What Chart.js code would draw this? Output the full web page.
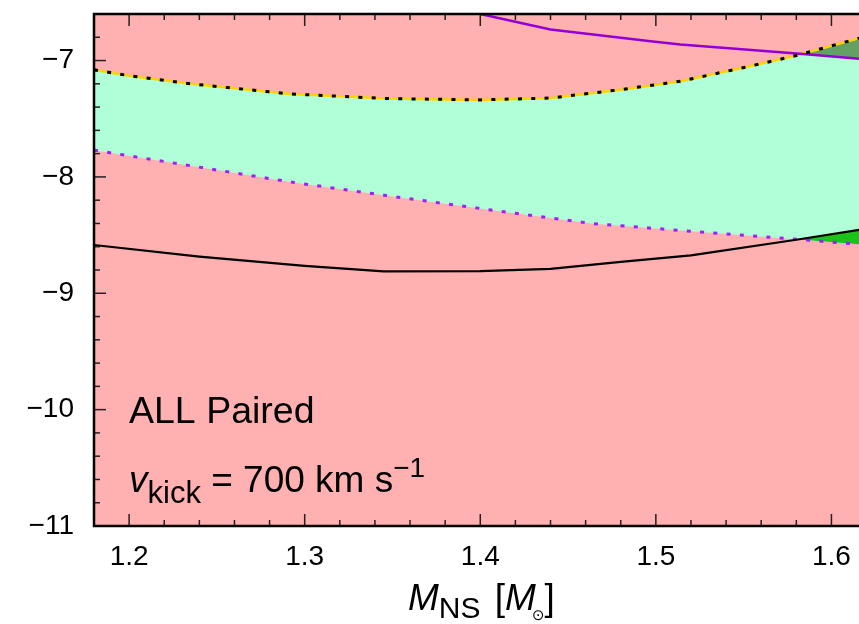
<!DOCTYPE html>
<html lang="en">
<head>
<meta charset="UTF-8">
<title>ALL Paired</title>
<script src="https://cdn.jsdelivr.net/npm/chart.js@4.4.0/dist/chart.umd.min.js"></script>
<style>
  html, body { margin: 0; padding: 0; background: #fff; }
  #wrap { width: 859px; height: 624px; }
</style>
</head>
<body>
<div id="wrap"><canvas id="chart" width="859" height="624"></canvas></div>
<script>
// upper edge of the band (black dots over yellow)
const upperX = [1.18, 1.20, 1.235, 1.292, 1.347, 1.40, 1.44, 1.48, 1.514, 1.552, 1.58, 1.62];
const upperY = [-7.08, -7.13, -7.20, -7.287, -7.327, -7.338, -7.322, -7.25, -7.178, -7.054, -6.957, -6.79];

// lower edge of the band (purple dots)
const lowerX = [1.18, 1.235, 1.292, 1.346, 1.406, 1.463, 1.52, 1.58, 1.62];
const lowerY = [-7.77, -7.904, -8.044, -8.159, -8.284, -8.40, -8.467, -8.535, -8.585];

// solid black curve
const blackX = [1.18, 1.24, 1.30, 1.345, 1.40, 1.44, 1.48, 1.52, 1.58, 1.62];
const blackY = [-8.585, -8.685, -8.765, -8.812, -8.81, -8.79, -8.73, -8.675, -8.54, -8.445];

// solid purple curve
const violetX = [1.40, 1.44, 1.497, 1.514, 1.582, 1.62];
const violetY = [-6.60, -6.733, -6.834, -6.862, -6.942, -6.99];

const xMin = 1.18, xMax = 1.6157;
const yMin = -11, yMax = -6.6;

const PINK = 'rgb(255,176,176)';
const MINT = 'rgb(176,255,216)';
const DARKGREEN = 'rgb(98,160,100)';
const GREEN = 'rgb(26,194,26)';
const NONE = 'rgba(0,0,0,0)';
const FONT = '"Liberation Sans", Arial, Helvetica, sans-serif';

const pts = (xs, ys) => xs.map((x, i) => ({ x: x, y: ys[i] }));
const onStep = (v, step) => Math.abs(v / step - Math.round(v / step)) < 1e-6;

const pinkBg = {
  id: 'pinkBg',
  beforeDraw(chart) {
    const a = chart.chartArea, ctx = chart.ctx;
    ctx.save();
    ctx.fillStyle = PINK;
    ctx.fillRect(a.left, a.top, a.right - a.left, a.bottom - a.top);
    ctx.restore();
  }
};

// inward ticks + frame (left, top, bottom; right side is cut off)
const frame = {
  id: 'frame',
  afterDatasetsDraw(chart) {
    const { ctx, chartArea: a, scales: { x, y } } = chart;
    ctx.save();
    ctx.strokeStyle = '#222';
    ctx.lineWidth = 1.5;
    x.ticks.forEach(t => {
      const px = x.getPixelForValue(t.value);
      const len = onStep(t.value, 0.1) ? 12 : 6;
      ctx.beginPath();
      ctx.moveTo(px, a.bottom); ctx.lineTo(px, a.bottom - len);
      ctx.moveTo(px, a.top); ctx.lineTo(px, a.top + len);
      ctx.stroke();
    });
    y.ticks.forEach(t => {
      const py = y.getPixelForValue(t.value);
      const len = onStep(t.value, 1) ? 12 : 6;
      ctx.beginPath();
      ctx.moveTo(a.left, py); ctx.lineTo(a.left + len, py);
      ctx.stroke();
    });
    ctx.strokeStyle = '#000';
    ctx.lineWidth = 2.5;
    ctx.beginPath();
    ctx.moveTo(a.right + 2, a.top);
    ctx.lineTo(a.left, a.top);
    ctx.lineTo(a.left, a.bottom);
    ctx.lineTo(a.right + 2, a.bottom);
    ctx.stroke();
    ctx.restore();
  }
};

// text with sub/superscripts
function run(ctx, x, y, parts) {
  parts.forEach(p => {
    ctx.font = p.font;
    ctx.fillText(p.t, x + (p.dx || 0), y + (p.dy || 0));
    x += ctx.measureText(p.t).width + (p.dx || 0);
  });
}

const labels = {
  id: 'labels',
  afterDraw(chart) {
    const ctx = chart.ctx;
    ctx.save();
    ctx.fillStyle = '#000';
    ctx.textBaseline = 'alphabetic';
    ctx.textAlign = 'left';
    run(ctx, 129, 423, [{ t: 'ALL Paired', font: '37.5px ' + FONT }]);
    run(ctx, 129, 492, [
      { t: 'v', font: 'italic 37px ' + FONT },
      { t: 'kick', font: '31px ' + FONT, dy: 11 },
      { t: ' = 700 km s', font: '37px ' + FONT },
      { t: '\u22121', font: '28px ' + FONT, dy: -15 }
    ]);
    run(ctx, 408, 610, [
      { t: 'M', font: 'italic 37px ' + FONT },
      { t: 'NS', font: '30px ' + FONT, dy: 8 },
      { t: ' [', font: '37px ' + FONT, dx: 4 },
      { t: 'M', font: 'italic 37px ' + FONT },
      { t: '\u2299', font: '15px "DejaVu Sans", sans-serif', dx: -4, dy: 10 },
      { t: ']', font: '37px ' + FONT, dx: 0 }
    ]);
    ctx.restore();
  }
};

new Chart(document.getElementById('chart'), {
  type: 'line',
  data: {
    datasets: [
      { // 0: black dots on the upper edge
        data: pts(upperX, upperY),
        borderColor: '#000', borderWidth: 3, borderDash: [4, 9.3],
        pointRadius: 0, fill: false
      },
      { // 1: yellow upper edge, band fill down to the purple dots (drawn first)
        data: pts(upperX, upperY),
        order: 5,
        borderColor: 'rgb(255,210,0)', borderWidth: 2.5,
        pointRadius: 0,
        fill: { target: 3, above: MINT, below: MINT }
      },
      { // 2: solid black
        data: pts(blackX, blackY),
        borderColor: '#000', borderWidth: 2.2,
        pointRadius: 0, fill: false
      },
      { // 3: purple dotted lower edge, green where it drops under the black curve
        data: pts(lowerX, lowerY),
        borderColor: 'rgb(160,32,240)', borderWidth: 3, borderDash: [4, 9.3],
        pointRadius: 0,
        fill: { target: 2, above: NONE, below: GREEN }
      },
      { // 4: solid purple, dark green where it is under the upper edge
        data: pts(violetX, violetY),
        borderColor: 'rgb(148,0,211)', borderWidth: 2.5,
        pointRadius: 0,
        fill: { target: 1, above: NONE, below: DARKGREEN }
      }
    ]
  },
  options: {
    responsive: false,
    animation: false,
    layout: { padding: { top: 14, left: 0, right: 0, bottom: 0 } },
    elements: { line: { tension: 0 } },
    plugins: {
      legend: { display: false },
      tooltip: { enabled: false },
      filler: { drawTime: 'beforeDatasetsDraw' }
    },
    scales: {
      x: {
        type: 'linear',
        min: xMin, max: xMax,
        grid: { display: false, drawTicks: false },
        border: { display: false },
        ticks: {
          stepSize: 0.02,
          includeBounds: false,
          autoSkip: false,
          maxRotation: 0,
          padding: 14,
          color: '#000',
          font: { family: FONT, size: 28 },
          callback: v => onStep(v, 0.1) ? v.toFixed(1) : ''
        },
        afterFit(s) { s.height = 98; s.paddingLeft = 0; s.paddingRight = 0; }
      },
      y: {
        type: 'linear',
        min: yMin, max: yMax,
        grid: { display: false, drawTicks: false },
        border: { display: false },
        ticks: {
          stepSize: 0.2,
          autoSkip: false,
          padding: 20,
          color: '#000',
          font: { family: FONT, size: 28 },
          callback: v => onStep(v, 1) ? '\u2212' + Math.abs(Math.round(v)) : ''
        },
        afterFit(s) { s.width = 94; s.paddingTop = 0; s.paddingBottom = 0; }
      }
    }
  },
  plugins: [pinkBg, frame, labels]
});
</script>
</body>
</html>
